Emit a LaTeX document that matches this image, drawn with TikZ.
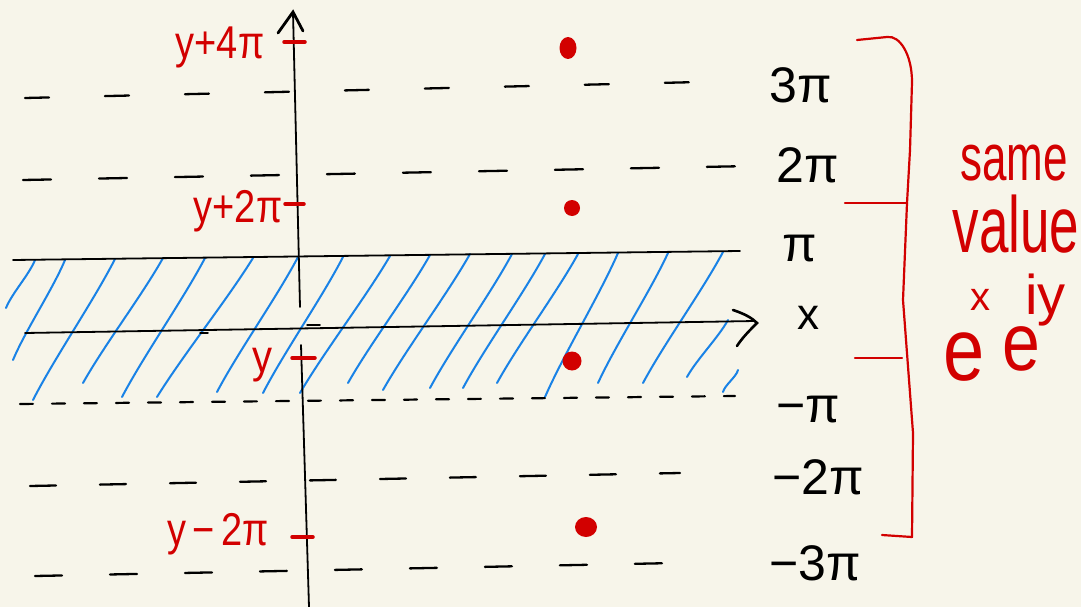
\documentclass[tikz,border=0pt]{standalone}
\usepackage{fontspec}
\setmainfont{Liberation Sans}
\usepackage{graphicx}
\definecolor{bgc}{RGB}{247,245,234}
\definecolor{redc}{RGB}{210,0,0}
\definecolor{bluec}{RGB}{25,130,230}
\tikzset{
  axisline/.style={line width=1.8pt, black, line cap=round},
  hdash/.style={line width=2.3pt, black, line cap=round},
  hatchline/.style={bluec, line width=2pt, line cap=round, line join=round},
  redmark/.style={redc, line width=3.5pt, line cap=round},
  bracketline/.style={redc, line width=2.2pt, line cap=round, line join=round},
  reddot/.style={fill=redc, draw=none},
  blabel/.style={inner sep=0pt, font=\fontsize{50}{50}\selectfont},
  rlabel/.style={inner sep=0pt, text=redc, font=\fontsize{40}{40}\selectfont},
  rbig/.style={inner sep=0pt, text=redc}
}
\begin{document}
\begin{tikzpicture}[x=1pt,y=-1pt]
\fill[bgc] (0,0) rectangle (1081,607);
\useasboundingbox (0,0) rectangle (1081,607);

% ---------- hatching ----------
\foreach \tx/\ty/\bx/\by in {35/260/6/308, 65/260/13/360, 115/259/33/400, 163/258/83/383,
  205/258/122/397, 253/258/157/397, 298/257/217/392, 343/257/263/393, 390/256/300/393,
  430/255/348/383, 470/254/383/390, 512/254/430/388, 545/254/463/388, 578/254/497/383,
  618/253/545/397, 668/253/598/383, 723/252/643/383, 728/320/687/377, 738/370/723/392}
  \draw[hatchline] (\tx,\ty) .. controls ({\tx-0.3*(\tx-\bx)+3},{\ty+0.3*(\by-\ty)}) and ({\tx-0.7*(\tx-\bx)-3},{\ty+0.7*(\by-\ty)}) .. (\bx,\by);

% ---------- horizontal lines ----------
\coordinate (d3a) at (25,98);   \coordinate (d3b) at (742,81);
\coordinate (d2a) at (23,180);  \coordinate (d2b) at (752,166);
\coordinate (pia) at (13,260);  \coordinate (pib) at (740,251);
\coordinate (xa) at (25,333);   \coordinate (xb) at (755,321);
\coordinate (mpa) at (20,404);  \coordinate (mpb) at (735,396);
\coordinate (m2a) at (30,486);  \coordinate (m2b) at (680,473);
\coordinate (m3a) at (35,576);  \coordinate (m3b) at (675,563);

\draw[hdash, dash pattern=on 24pt off 56pt] (d3a) -- (d3b);
\draw[hdash, dash pattern=on 28pt off 48pt] (d2a) -- (d2b);
\draw[axisline] (pia) -- (pib);
\draw[axisline] (xa) -- (xb);
\draw[axisline, line width=2.6pt] (733,310) .. controls (745,314) and (752,318) .. (757,323) .. controls (750,330) and (742,338) .. (737,346);
\draw[hdash, line width=2.2pt, dash pattern=on 13pt off 19pt] (mpa) -- (mpb);
\draw[hdash, dash pattern=on 26pt off 44pt] (m2a) -- (m2b);
\draw[hdash, dash pattern=on 27pt off 48pt] (m3a) -- (m3b);

% small stray strokes
\draw[axisline, line width=1.5pt] (307,325) -- (320,325);
\draw[axisline, line width=1.5pt] (200,333) -- (208,333);

% ---------- y axis ----------
\coordinate (ytop) at (293,12);
\coordinate (ygap1) at (300,307);
\coordinate (ygap2) at (301,345);
\coordinate (ybot) at (309,607);
\draw[axisline] (ytop) -- (ygap1);
\draw[axisline] (ygap2) -- (ybot);
\draw[axisline, line width=2.8pt] (278,33) -- (ytop) -- (303,31);

% ---------- red ticks on y axis and labels ----------
\draw[redmark] (284,42) -- (305,42);
\draw[redmark] (285,204) -- (304,204);
\draw[redmark] (292,358) -- (315,358);
\draw[redmark] (292,537) -- (313,537);
\node[rlabel] (l4) at (220,47) {\scalebox{0.95}[1.15]{y+4π}};
\node[rlabel] (l2) at (238,211) {\scalebox{0.95}[1.15]{y+2π}};
\node[rlabel] (l0) at (262,365) {\scalebox{1}[1.15]{y}};
\node[rlabel] (lm2) at (218,534) {\scalebox{0.95}[1.15]{y\,−\,2π}};

% ---------- red dots ----------
\fill[reddot] (568,48) ellipse [x radius=8.5pt, y radius=11pt];
\fill[reddot] (572,208) circle [radius=8pt];
\fill[reddot] (572,361) circle [radius=9.5pt];
\fill[reddot] (586,527) ellipse [x radius=11pt, y radius=10pt];

% ---------- right labels ----------
\node[blabel] (t3) at (801,85) {3π};
\node[blabel] (t2) at (808,165) {2π};
\node[blabel] (t1) at (800,249) {π};
\node[blabel, font=\fontsize{44}{44}\selectfont] (tx) at (808,318) {x};
\node[blabel] (tm1) at (808,410) {−π};
\node[blabel] (tm2) at (818,477) {−2π};
\node[blabel] (tm3) at (815,563) {−3π};

% ---------- red bracket ----------
\draw[bracketline] (857,40) -- (887,37) .. controls (900,35) and (912,55) .. (912,82)
  -- (910,150) -- (907,203) -- (903,300) -- (913,433) -- (912,537) -- (882,535);
\draw[bracketline] (845,203) -- (907,203);
\draw[bracketline] (855,358) -- (902,358);

% ---------- red text ----------
\node[rbig, font=\fontsize{44}{44}\selectfont] (same) at (1014,163) {\scalebox{1}[1.5]{same}};
\node[rbig, font=\fontsize{53}{53}\selectfont] (value) at (1016,224) {\scalebox{1}[1.5]{value}};
\node[rbig, anchor=base west] (exeiy) at (943,380) {%
  \scalebox{1}[1.2]{\fontsize{74}{74}\selectfont e}\kern-14pt%
  \raisebox{70pt}{\fontsize{40}{40}\selectfont x}\kern12pt%
  \raisebox{10pt}{\scalebox{1}[1.2]{\fontsize{68}{68}\selectfont e}}\kern-15pt%
  \raisebox{66pt}{\fontsize{56}{56}\selectfont iy}};
\end{tikzpicture}
\end{document}
